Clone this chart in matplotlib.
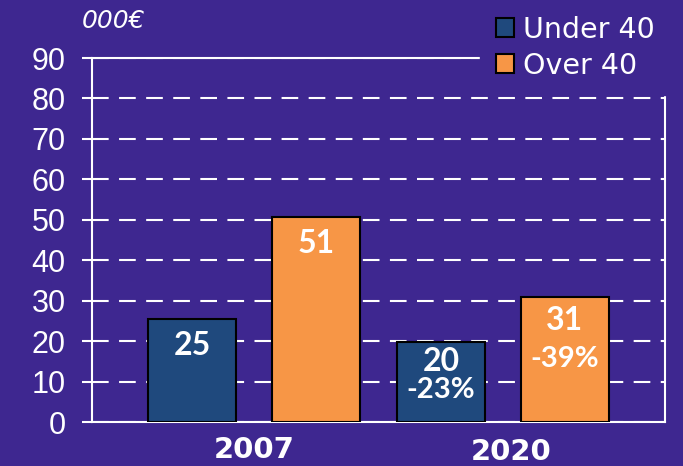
import numpy as np
import matplotlib
matplotlib.use('Agg')
import matplotlib.pyplot as plt
import matplotlib.transforms as mtransforms
from matplotlib.patches import Patch

# data
years = ['2007', '2020']
under40 = [25.4, 19.7]
over40 = [50.6, 30.8]
under_lbl = ['25', '20']
over_lbl = ['51', '31']
under_pct = ['', '-23%']
over_pct = ['', '-39%']
yticks = [0, 10, 20, 30, 40, 50, 60, 70, 80, 90]

bg = '#3E2790'
c_under = '#1F497D'
c_over = '#F79646'

fig = plt.figure(figsize=(6.83, 4.66), dpi=100, facecolor=bg)
ax = fig.add_axes([92/683, 44/466, 573/683, 364/466])
ax.set_facecolor(bg)

x = np.arange(len(years))
off = 0.249
w = 0.353
ax.bar(x - off, under40, w, color=c_under, edgecolor='black', linewidth=1.5, zorder=3)
ax.bar(x + off, over40, w, color=c_over, edgecolor='black', linewidth=1.5, zorder=3)

ax.set_xlim(-0.651, 1.651)
ax.set_ylim(0, 90)
ax.set_yticks(yticks)
ax.yaxis.grid(True, color='white', linestyle=(0, (8, 5)), linewidth=1.5, zorder=1)
ax.set_axisbelow(True)

for s in ax.spines.values():
    s.set_color('white')
    s.set_linewidth(1.5)

ax.tick_params(axis='y', colors='white', length=7, width=1.5, pad=12,
               labelsize=22, labelfontfamily='Liberation Sans')
ax.set_xticks(x)
ax.set_xticklabels(years, fontsize=21, fontweight='bold', color='white', family='DejaVu Sans')
ax.tick_params(axis='x', length=0, pad=10)
# 2020 sits a bit to the right and lower
lab = ax.get_xticklabels()[1]
lab.set_transform(lab.get_transform() + mtransforms.ScaledTranslation(6/72, -1.5/72, fig.dpi_scale_trans))

# value labels
for i in range(len(years)):
    ax.annotate(under_lbl[i], (x[i] - off, under40[i]), xytext=(0, -19 if i == 0 else -14),
                textcoords='offset points', ha='center', va='center', color='white',
                fontsize=23, fontweight='bold', family='Lato', zorder=4)
    ax.annotate(over_lbl[i], (x[i] + off, over40[i]), xytext=(0, -19 if i == 0 else -16.5),
                textcoords='offset points', ha='center', va='center', color='white',
                fontsize=23, fontweight='bold', family='Lato', zorder=4)
    if under_pct[i]:
        ax.annotate(under_pct[i], (x[i] - off, under40[i]), xytext=(0, -34),
                    textcoords='offset points', ha='center', va='center', color='white',
                    fontsize=21, fontweight='bold', family='Lato', zorder=4)
    if over_pct[i]:
        ax.annotate(over_pct[i], (x[i] + off, over40[i]), xytext=(0, -44.5),
                    textcoords='offset points', ha='center', va='center', color='white',
                    fontsize=21, fontweight='bold', family='Lato', zorder=4)

fig.text(82/683, 1 - 21/466, '000€', color='white', fontsize=18, style='italic',
         family='DejaVu Sans', ha='left', va='center')

handles = [Patch(facecolor=c_under, edgecolor='black', linewidth=1.5, label='Under 40'),
           Patch(facecolor=c_over, edgecolor='black', linewidth=1.5, label='Over 40')]
leg = ax.legend(handles=handles, loc='upper left', bbox_to_anchor=(480/683, 1.0),
                bbox_transform=fig.transFigure, fontsize=20.5, frameon=True,
                facecolor=bg, edgecolor=bg, framealpha=1, fancybox=False,
                borderpad=0.55, borderaxespad=0, handlelength=0.65, handleheight=0.65,
                handletextpad=0.32, labelspacing=0.28, labelcolor='white')
leg.set_zorder(10)

fig.savefig('out.png', dpi=100, facecolor=bg)
